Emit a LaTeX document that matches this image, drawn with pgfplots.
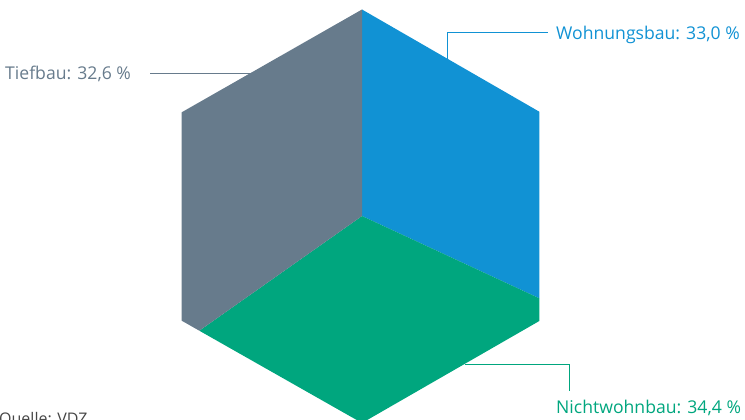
\documentclass[border=0pt]{standalone}
\usepackage{pgfplots}
\pgfplotsset{compat=1.18}
\usepackage{fontspec}
\setmainfont{Open Sans}
\definecolor{cblue}{RGB}{17,146,212}
\definecolor{cgray}{RGB}{103,123,140}
\definecolor{cgreen}{RGB}{0,166,126}
\definecolor{ctext}{RGB}{70,70,70}
\begin{document}
\begin{tikzpicture}
\begin{axis}[
  scale only axis, width=745pt, height=420pt,
  xmin=0, xmax=745, ymin=0, ymax=420,
  hide axis, clip=false,
]
% Wohnungsbau 33,0 %
\addplot[fill=cblue, draw=none] coordinates {(362,204) (362,410.5) (539.3,308.3) (539.3,121.7) (362,204)};
% Nichtwohnbau 34,4 %
\addplot[fill=cgreen, draw=none] coordinates {(362,204) (539.3,121.7) (539.3,99) (362,-3) (199.3,89.3) (362,204)};
% Tiefbau 32,6 %
\addplot[fill=cgray, draw=none] coordinates {(362,204) (199.3,89.3) (181.7,99.3) (181.7,307.7) (362,410.5) (362,204)};
% leader lines
\addplot[cgray, line width=0.8pt] coordinates {(150,346.7) (250,346.7)};
\addplot[cblue, line width=0.8pt] coordinates {(447.3,361.3) (447.3,387.3) (548,387.3)};
\addplot[cgreen, line width=0.8pt] coordinates {(464.6,56) (569.3,56) (569.3,29.3)};
% labels
\node[anchor=base west, inner sep=0pt, text=cgray, font=\fontsize{17.6}{20}\selectfont] at (axis cs:5,340) {Tiefbau: 32,6 \%};
\node[anchor=base west, inner sep=0pt, text=cblue, font=\fontsize{17.6}{20}\selectfont] at (axis cs:556,380.7) {Wohnungsbau: 33,0 \%};
\node[anchor=base west, inner sep=0pt, text=cgreen, font=\fontsize{17.6}{20}\selectfont] at (axis cs:556,6) {Nichtwohnbau: 34,4 \%};
\node[anchor=base west, inner sep=0pt, text=ctext, font=\fontsize{16}{19}\selectfont] at (axis cs:-1,-5) {Quelle: VDZ};
\end{axis}
\pgfresetboundingbox
\path[use as bounding box] (0,0) rectangle (745pt,420pt);
\end{tikzpicture}
\end{document}
